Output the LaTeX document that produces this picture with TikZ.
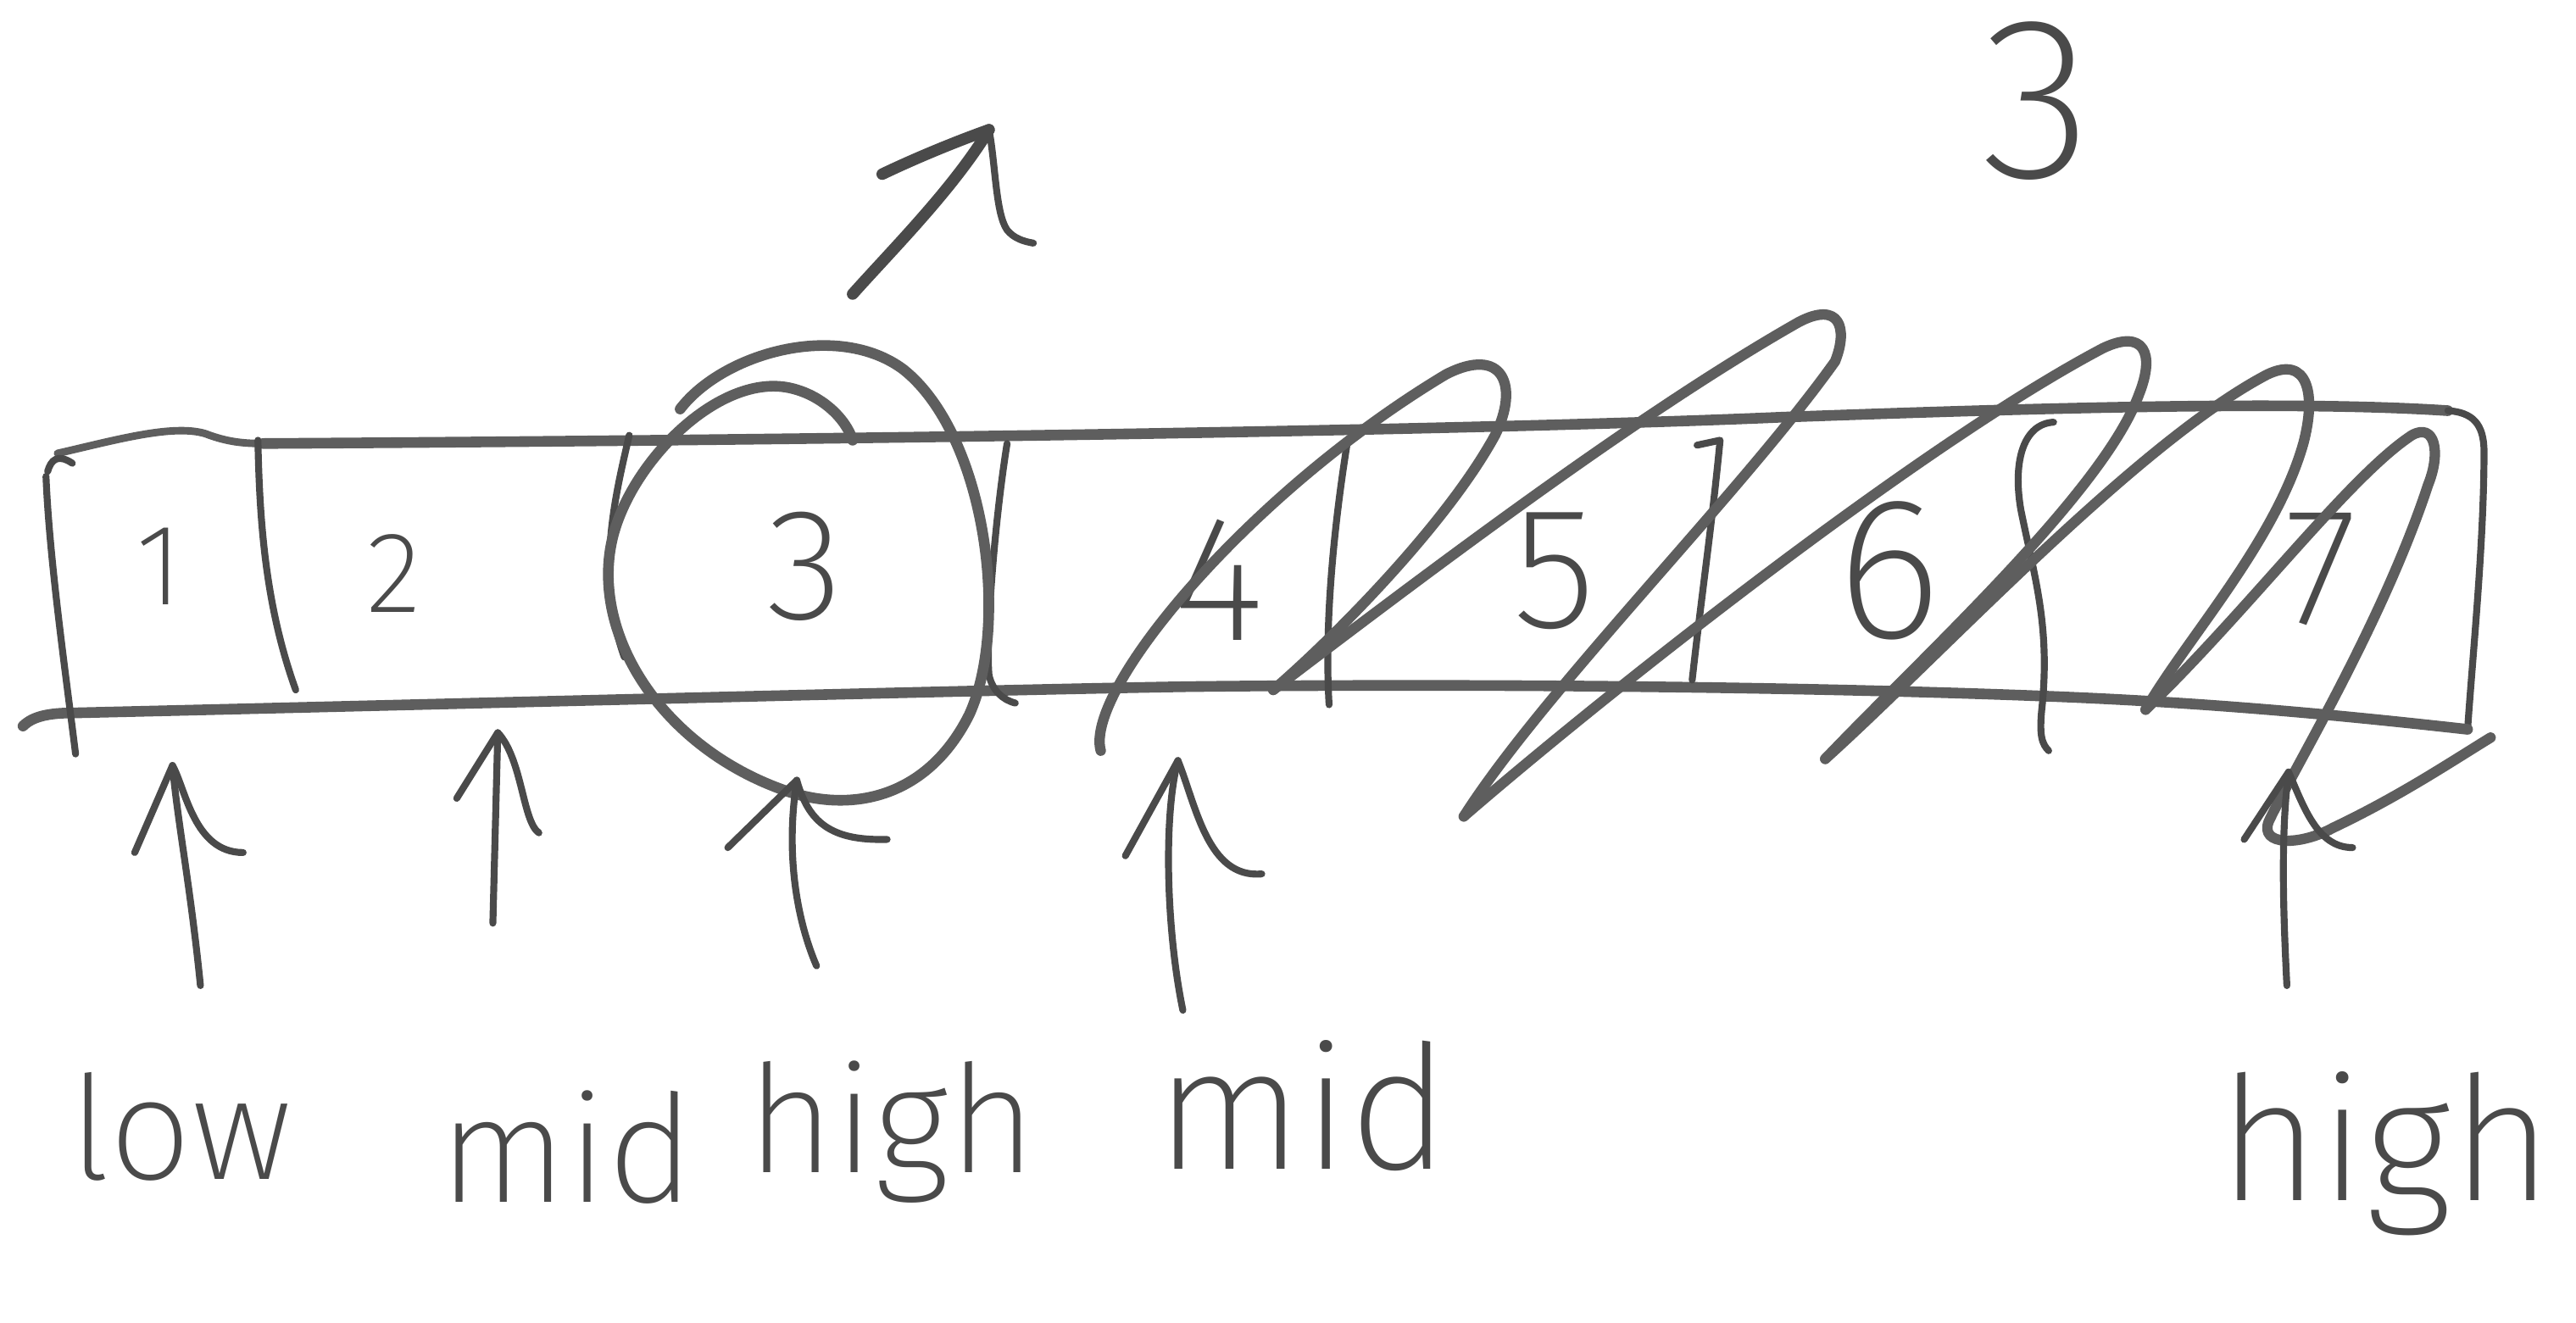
\documentclass[tikz,border=0pt]{standalone}
\usepackage{fontspec}
\IfFontExistsTF{Fira Sans ExtraLight}{\setmainfont{Fira Sans ExtraLight}}{%
  \IfFontExistsTF{Fira Sans Light}{\setmainfont{Fira Sans Light}}{\setmainfont{Liberation Sans}}}
\usetikzlibrary{arrows.meta}
\definecolor{ink}{HTML}{4A4A4A}
\definecolor{inklight}{HTML}{5E5E5E}
\tikzset{
  boxline/.style={draw=inklight, line width=3.7pt, line cap=round, line join=round},
  thinline/.style={draw=ink, line width=2.4pt, line cap=round, line join=round},
  scribble/.style={draw=inklight, line width=3.6pt, line cap=round, line join=round},
  digit/.style={text=ink, inner sep=0pt, anchor=base},
  lbl/.style={text=ink, inner sep=0pt, anchor=base},
}
\newcommand{\fsz}[1]{\fontsize{#1}{#1}\selectfont}
\begin{document}
\begin{tikzpicture}[x=0.02cm, y=-0.02cm]
\useasboundingbox (0,0) rectangle (1568,805);

% ---- array box ----
\draw[boxline, line width=2.6pt] (35,276) .. controls (70,268) and (105,258) .. (125,264) .. controls (138,269) and (148,270) .. (160,270);
\draw[boxline] (160,270) .. controls (500,268) and (900,262) .. (1084,254) .. controls (1250,248) and (1400,244) .. (1490,250);
\draw[thinline] (1490,250) .. controls (1505,251) and (1512,258) .. (1512,275) .. controls (1512,330) and (1505,400) .. (1502,444);
\draw[boxline] (14,442) .. controls (20,436) and (30,434) .. (45,434) .. controls (300,428) and (600,420) .. (723,418) .. controls (900,416) and (1100,418) .. (1250,424) .. controls (1350,428) and (1430,436) .. (1502,444);
\draw[thinline] (28,290) .. controls (30,340) and (40,410) .. (46,459);
\draw[thinline] (29,287) .. controls (31,280) and (35,276) .. (44,282);

% dividers
\draw[thinline] (157,268) .. controls (158,320) and (162,370) .. (180,420);
\draw[thinline] (383,265) .. controls (375,300) and (362,350) .. (380,400);
\draw[thinline] (613,270) .. controls (605,320) and (600,390) .. (602,411) .. controls (604,420) and (610,426) .. (618,428);
\draw[thinline] (820,270) .. controls (812,320) and (806,380) .. (809,429);
\draw[thinline] (1033,271) -- (1047,268) .. controls (1042,320) and (1036,360) .. (1030,414);
\draw[thinline] (1250,257) .. controls (1232,258) and (1225,280) .. (1230,310) .. controls (1238,350) and (1248,380) .. (1243,430) .. controls (1241,448) and (1243,453) .. (1247,457);

% digits
\node[digit] (d1) at (97,368) {\fsz{40}1};
\node[digit] (d2) at (240,373) {\fsz{40}2};
\node[digit] (d3) at (490,377) {\fsz{55}3};
\node[digit] (d4) at (742,390) {\fsz{62}4};
\node[digit] (d5) at (946,382) {\fsz{60}5};
\node[digit] (d6) at (1150,388) {\fsz{70}6};
\node[digit] (d7) at (1413,380) {\fsz{58}7};
\node[digit] (top3) at (1240,108) {\fsz{80}3};

% circle around 3
\draw[boxline] (414,249) .. controls (440,215) and (510,195) .. (550,225) .. controls (600,265) and (615,380) .. (590,435) .. controls (565,485) and (520,495) .. (480,482) .. controls (400,455) and (355,380) .. (375,320) .. controls (390,275) and (440,228) .. (480,236) .. controls (500,240) and (515,255) .. (519,268);

% cross-out scribble
\draw[scribble] (670,457) .. controls (660,420) and (760,300) .. (880,228) .. controls (915,210) and (925,235) .. (910,265) .. controls (880,320) and (810,390) .. (775,420);
\draw[scribble] (775,420) .. controls (880,340) and (1000,250) .. (1095,196) .. controls (1120,183) and (1125,200) .. (1117,220) .. controls (1060,300) and (940,420) .. (891,497);
\draw[scribble] (891,497) .. controls (980,420) and (1170,270) .. (1280,212) .. controls (1305,200) and (1312,215) .. (1302,240) .. controls (1280,300) and (1170,400) .. (1111,462);
\draw[scribble] (1111,462) .. controls (1180,400) and (1300,270) .. (1380,228) .. controls (1405,216) and (1410,240) .. (1402,270) .. controls (1385,330) and (1330,390) .. (1306,432);
\draw[scribble] (1306,432) .. controls (1370,370) and (1430,290) .. (1468,265) .. controls (1482,257) and (1486,275) .. (1478,295) .. controls (1450,380) and (1395,470) .. (1381,500) .. controls (1375,515) and (1400,515) .. (1420,504) .. controls (1460,485) and (1490,465) .. (1516,449);

% top arrow
\draw[boxline, draw=ink, line width=4pt] (519,179) .. controls (545,150) and (580,115) .. (602,79);
\draw[boxline, draw=ink, line width=4pt] (537,106) .. controls (560,95) and (585,85) .. (602,79);
\draw[thinline] (602,79) .. controls (606,100) and (606,130) .. (613,140) .. controls (617,145) and (623,147) .. (629,148);

% labels
\node[lbl] (lowA) at (110,718) {\fsz{50}low};
\node[lbl] (midA) at (345,732) {\fsz{52}mid};
\node[lbl] (highA) at (543,714) {\fsz{52}high};
\node[lbl] (midB) at (793,712) {\fsz{60}mid};
\node[lbl] (highB) at (1452,731) {\fsz{60}high};

% pointer arrows
\coordinate (t1) at (105,466); \coordinate (s1) at (122,600);
\coordinate (t2) at (303,446); \coordinate (s2) at (300,562);
\coordinate (t3) at (485,475); \coordinate (s3) at (497,588);
\coordinate (t4) at (717,463); \coordinate (s4) at (720,615);
\coordinate (t5) at (1393,470); \coordinate (s5) at (1392,600);

\draw[thinline] (s1) .. controls (116,540) and (108,500) .. (t1);
\draw[thinline] (82,519) -- (t1) .. controls (113,480) and (118,519) .. (148,519);
\draw[thinline] (s2) -- (t2);
\draw[thinline] (278,486) -- (t2) .. controls (318,462) and (318,500) .. (328,507);
\draw[thinline] (s3) .. controls (485,560) and (478,520) .. (t3);
\draw[thinline] (443,516) -- (t3) .. controls (492,500) and (505,512) .. (540,511);
\draw[thinline] (s4) .. controls (710,567) and (708,497) .. (t4);
\draw[thinline] (685,521) -- (t4) .. controls (728,490) and (735,535) .. (768,532);
\draw[thinline] (s5) .. controls (1390,560) and (1388,509) .. (t5);
\draw[thinline] (1366,511) -- (t5) .. controls (1402,490) and (1410,516) .. (1432,516);

\end{tikzpicture}
\end{document}
